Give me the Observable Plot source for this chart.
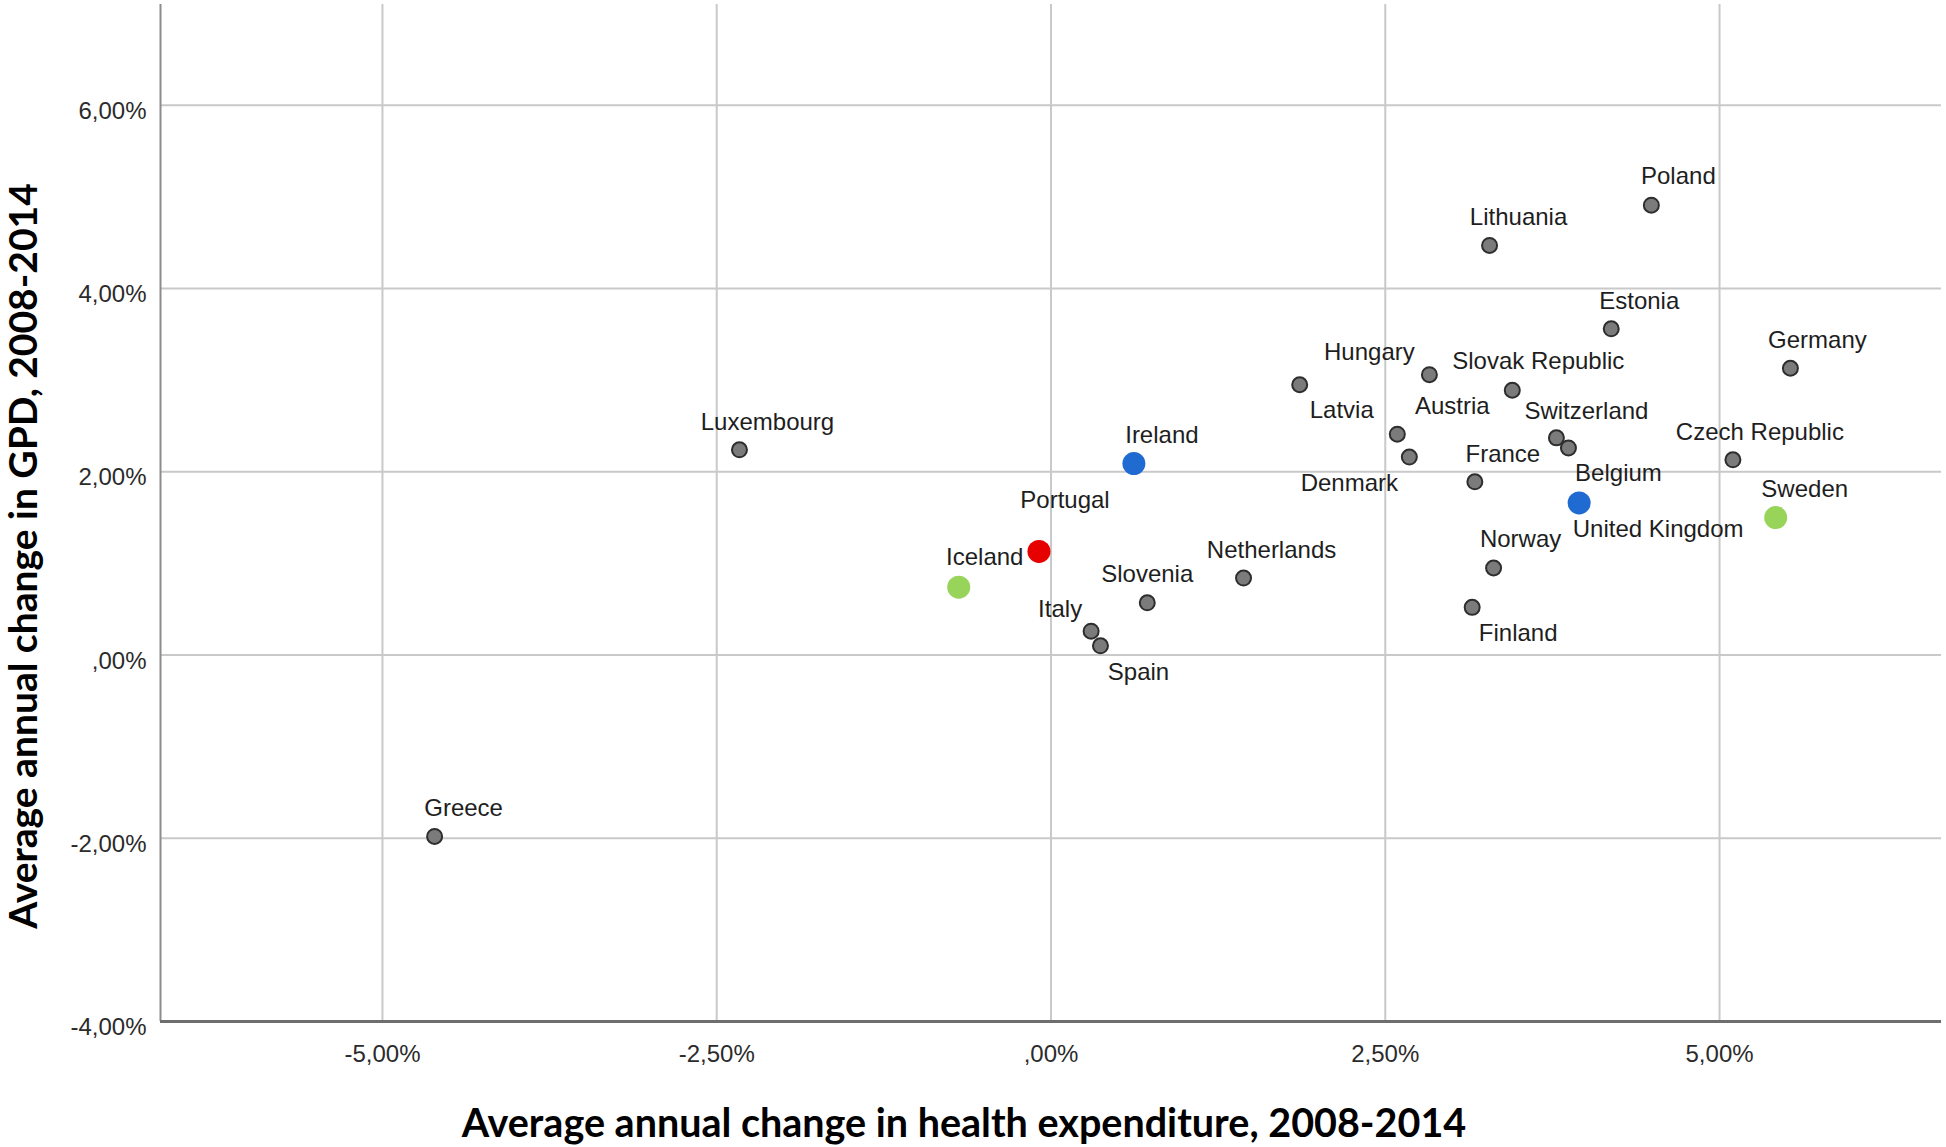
<!DOCTYPE html>
<html>
<head>
<meta charset="utf-8">
<script src="https://cdn.jsdelivr.net/npm/d3@7"></script>
<script src="https://cdn.jsdelivr.net/npm/@observablehq/plot@0.6"></script>
<style>
  html, body { margin: 0; padding: 0; background: #ffffff; }
  #chart { width: 1946px; height: 1147px; }
</style>
</head>
<body>
<div id="chart"></div>
<script>
// ---- Data ----
const countries = [
  "Poland", "Lithuania", "Estonia", "Germany", "Czech Republic", "Sweden",
  "United Kingdom", "Switzerland", "Belgium", "Slovak Republic", "Hungary",
  "Latvia", "Austria", "Denmark", "France", "Norway", "Finland",
  "Luxembourg", "Ireland", "Portugal", "Iceland", "Netherlands", "Slovenia",
  "Italy", "Spain", "Greece"
];
// Average annual change in health expenditure, 2008-2014 (%)
const healthChange = [
  4.49, 3.28, 4.19, 5.53, 5.10, 5.42,
  3.95, 3.78, 3.87, 3.45, 2.83,
  1.86, 2.59, 2.68, 3.17, 3.31, 3.15,
  -2.33, 0.62, -0.09, -0.69, 1.44, 0.72,
  0.30, 0.37, -4.61
];
// Average annual change in GDP, 2008-2014 (%)
const gdpChange = [
  4.91, 4.47, 3.56, 3.13, 2.13, 1.50,
  1.66, 2.37, 2.26, 2.89, 3.06,
  2.95, 2.41, 2.16, 1.89, 0.95, 0.52,
  2.24, 2.09, 1.13, 0.74, 0.84, 0.57,
  0.26, 0.10, -1.98
];
// Highlight group of each country (drives the dot colour)
const highlight = [
  "other", "other", "other", "other", "other", "green",
  "blue", "other", "other", "other", "other",
  "other", "other", "other", "other", "other", "other",
  "other", "blue", "red", "green", "other", "other",
  "other", "other", "other"
];

const xTicks = [-5, -2.5, 0, 2.5, 5];
const xTickLabels = ["-5,00%", "-2,50%", ",00%", "2,50%", "5,00%"];
const yTicks = [-4, -2, 0, 2, 4, 6];
const yTickLabels = ["-4,00%", "-2,00%", ",00%", "2,00%", "4,00%", "6,00%"];

const xTitle = "Average annual change in health expenditure, 2008-2014";
const yTitle = "Average annual change in GPD, 2008-2014";

// ---- Layout / style (not data) ----
const xDomain = [-6.66, 6.66];
const yDomain = [-4, 7.1];
// label offset (px) of each point label's centre relative to its dot
const labelOffset = {
  "Poland": [27, -29], "Lithuania": [29, -28], "Estonia": [28, -28],
  "Germany": [27, -28], "Czech Republic": [27, -28], "Sweden": [29, -28],
  "United Kingdom": [79, 26], "Switzerland": [30, -27], "Belgium": [50, 25],
  "Slovak Republic": [26, -29], "Hungary": [-60, -22], "Latvia": [42, 26],
  "Austria": [55, -28], "Denmark": [-60, 26], "France": [28, -28],
  "Norway": [27, -29], "Finland": [46, 26], "Luxembourg": [28, -27],
  "Ireland": [28, -28], "Portugal": [26, -51], "Iceland": [26, -30],
  "Netherlands": [28, -28], "Slovenia": [0, -28], "Italy": [-31, -22],
  "Spain": [38, 26], "Greece": [29, -28]
};
const colorFor = { other: "#7b7b7b", blue: "#1f6bd1", red: "#e60000", green: "#98d45a" };

const rows = countries.map((c, i) => ({
  country: c, health: healthChange[i], gdp: gdpChange[i], group: highlight[i]
}));
const grey = rows.filter(d => d.group === "other");
const coloured = rows.filter(d => d.group !== "other");

const labelFont = "'Liberation Sans', Arial, sans-serif";
const titleFont = "Lato, 'Open Sans', sans-serif";

const chart = Plot.plot({
  width: 1946,
  height: 1147,
  marginLeft: 160,
  marginRight: 5,
  marginTop: 4,
  marginBottom: 126,
  x: { domain: xDomain },
  y: { domain: yDomain },
  style: { fontFamily: labelFont, fontSize: "24px", color: "#333", background: "#ffffff" },
  marks: [
    Plot.gridX(xTicks, { stroke: "#c9c9c9", strokeOpacity: 1, strokeWidth: 2 }),
    Plot.gridY(yTicks, { stroke: "#c9c9c9", strokeOpacity: 1, strokeWidth: 2 }),
    Plot.ruleX([xDomain[0]], { stroke: "#8c8c8c", strokeWidth: 2 }),
    Plot.ruleY([yDomain[0]], { stroke: "#6e6e6e", strokeWidth: 3 }),
    Plot.axisX(xTicks, {
      tickSize: 0, tickPadding: 23, label: null,
      tickFormat: d => xTickLabels[xTicks.indexOf(d)],
      fontSize: 24, fill: "#2b2b2b"
    }),
    Plot.axisY(yTicks, {
      tickSize: 0, tickPadding: 14, label: null, dy: 6,
      tickFormat: d => yTickLabels[yTicks.indexOf(d)],
      fontSize: 24, fill: "#2b2b2b"
    }),
    Plot.dot(grey, {
      x: "health", y: "gdp", r: 7.5,
      fill: d => colorFor[d.group], stroke: "#2e2e2e", strokeWidth: 2
    }),
    Plot.dot(coloured, {
      x: "health", y: "gdp", r: 11.5,
      fill: d => colorFor[d.group], stroke: "none"
    }),
    ...rows.map(d => Plot.text([d], {
      x: "health", y: "gdp", text: "country",
      dx: labelOffset[d.country][0], dy: labelOffset[d.country][1],
      textAnchor: "middle", lineAnchor: "middle",
      fontSize: 24, fontFamily: labelFont, fill: "#1e1e1e"
    })),
    Plot.text([xTitle], {
      text: d => d, frameAnchor: "bottom", lineAnchor: "bottom", textAnchor: "middle",
      dx: -87, dy: 115, fontSize: 39.5, fontWeight: "bold",
      fontFamily: titleFont, fill: "#000"
    }),
    Plot.text([yTitle], {
      text: d => d, frameAnchor: "left", lineAnchor: "bottom", textAnchor: "middle",
      rotate: -90, dx: -124, dy: 43, fontSize: 39, fontWeight: "bold",
      fontFamily: titleFont, fill: "#000"
    })
  ]
});
document.getElementById("chart").appendChild(chart);
</script>
</body>
</html>
